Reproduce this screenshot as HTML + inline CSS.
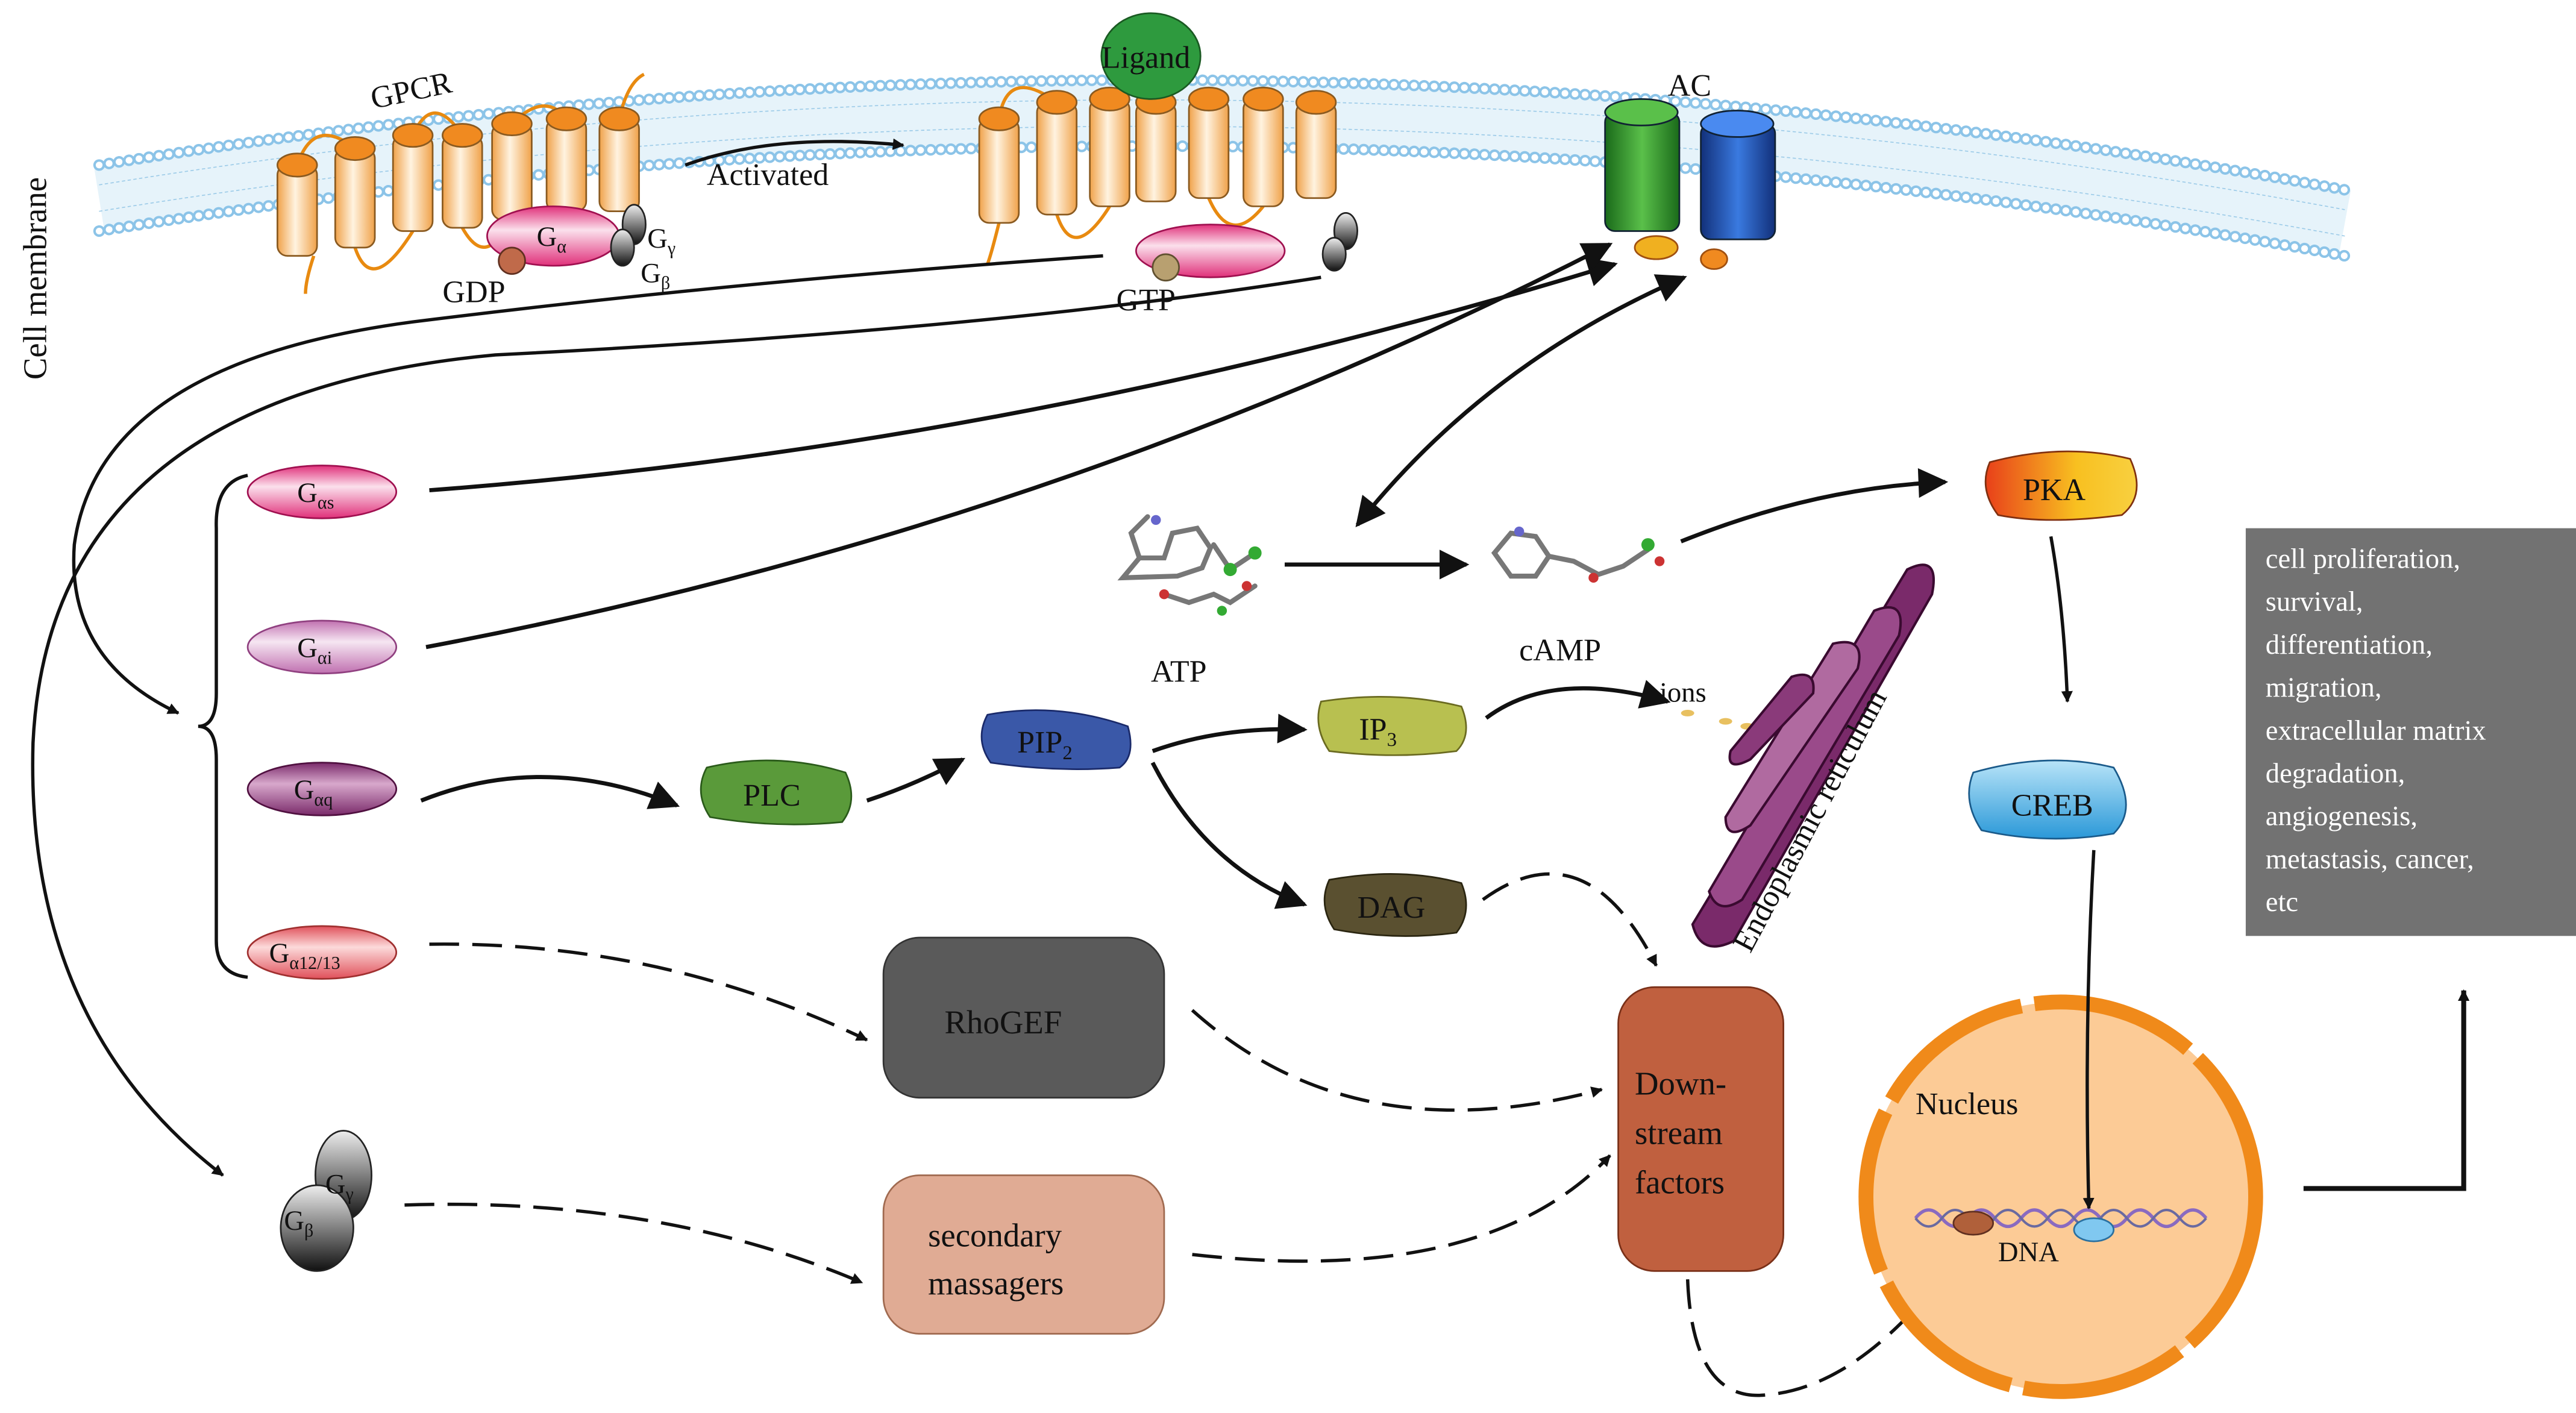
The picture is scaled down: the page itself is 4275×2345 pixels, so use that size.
<!DOCTYPE html>
<html><head><meta charset="utf-8"><style>
html,body{margin:0;padding:0;background:#fff}
svg{display:block}
text{font-family:"Liberation Serif",serif;fill:#111}
</style></head><body>
<svg width="4275" height="2345" viewBox="0 0 1560 856" preserveAspectRatio="none" xmlns="http://www.w3.org/2000/svg">
<defs>
<marker id="ah" viewBox="0 0 10 10" refX="9" refY="5" markerWidth="7" markerHeight="7" orient="auto-start-reverse" markerUnits="userSpaceOnUse"><path d="M0,0 L10,5 L0,10 z" fill="#111"/></marker>
<marker id="ahb" viewBox="0 0 10 10" refX="9" refY="5" markerWidth="22" markerHeight="18" orient="auto-start-reverse" markerUnits="userSpaceOnUse"><path d="M0,0 L10,5 L0,10 z" fill="#111"/></marker>
<linearGradient id="cyl" x1="0" x2="1"><stop offset="0" stop-color="#f0a24a"/><stop offset=".45" stop-color="#fff3e0"/><stop offset="1" stop-color="#f0a24a"/></linearGradient>
<linearGradient id="pink" x1="0" y1="0" x2="0" y2="1"><stop offset="0" stop-color="#e0307a"/><stop offset=".4" stop-color="#fbe0ec"/><stop offset="1" stop-color="#e0307a"/></linearGradient>
<linearGradient id="gi" x1="0" y1="0" x2="0" y2="1"><stop offset="0" stop-color="#c070b0"/><stop offset=".4" stop-color="#f6e6f2"/><stop offset="1" stop-color="#c070b0"/></linearGradient>
<linearGradient id="gq" x1="0" y1="0" x2="0" y2="1"><stop offset="0" stop-color="#7a2a6a"/><stop offset=".4" stop-color="#d8a8cc"/><stop offset="1" stop-color="#7a2a6a"/></linearGradient>
<linearGradient id="g12" x1="0" y1="0" x2="0" y2="1"><stop offset="0" stop-color="#e0505a"/><stop offset=".4" stop-color="#fcdada"/><stop offset="1" stop-color="#e0505a"/></linearGradient>
<linearGradient id="pka" x1="0" y1="0" x2="1" y2="0"><stop offset="0" stop-color="#e8401a"/><stop offset=".6" stop-color="#f8c020"/><stop offset="1" stop-color="#f8d040"/></linearGradient>
<linearGradient id="creb" x1="0" y1="0" x2="0" y2="1"><stop offset="0" stop-color="#b8e4f8"/><stop offset="1" stop-color="#2a98d8"/></linearGradient>
<linearGradient id="gr" x1="0" x2="1"><stop offset="0" stop-color="#1a6a1a"/><stop offset=".5" stop-color="#5ac04a"/><stop offset="1" stop-color="#1a6a1a"/></linearGradient>
<linearGradient id="bl" x1="0" x2="1"><stop offset="0" stop-color="#12307a"/><stop offset=".5" stop-color="#3a7ae0"/><stop offset="1" stop-color="#12307a"/></linearGradient>
<linearGradient id="gb" x1="0" y1="0" x2="0" y2="1"><stop offset="0" stop-color="#eee"/><stop offset="1" stop-color="#111"/></linearGradient>
</defs>

<!-- membrane -->
<path d="M60,120 Q740,10 1420,135" stroke="#e6f3fa" stroke-width="40" fill="none"/>
<path d="M60,112 Q740,2 1420,127" stroke="#9ccbe8" stroke-width="0.6" fill="none" stroke-dasharray="2 1.5"/>
<path d="M60,128 Q740,18 1420,143" stroke="#9ccbe8" stroke-width="0.6" fill="none" stroke-dasharray="2 1.5"/>
<path d="M60,100 Q740,-10 1420,115" stroke="#8cc4e8" stroke-width="7" fill="none" stroke-dasharray="0.1 6" stroke-linecap="round"/>
<path d="M60,100 Q740,-10 1420,115" stroke="#fff" stroke-width="4" fill="none" stroke-dasharray="0.1 6" stroke-linecap="round"/>
<path d="M60,140 Q740,30 1420,155" stroke="#8cc4e8" stroke-width="7" fill="none" stroke-dasharray="0.1 6" stroke-linecap="round"/>
<path d="M60,140 Q740,30 1420,155" stroke="#fff" stroke-width="4" fill="none" stroke-dasharray="0.1 6" stroke-linecap="round"/>

<text x="28" y="230" font-size="20" transform="rotate(-90 28 230)">Cell membrane</text>

<!-- GPCR -->
<g stroke="#e88a10" stroke-width="2" fill="none">
<path d="M180,100 Q190,70 215,90"/><path d="M250,82 Q262,55 280,82"/><path d="M310,75 Q330,55 343,72"/><path d="M375,72 Q380,50 390,45"/>
<path d="M215,150 Q225,180 250,140"/><path d="M280,138 Q295,165 310,130"/><path d="M190,155 Q185,170 185,178"/>
</g>
<g stroke="#8a5a20" stroke-width="1">
<rect x="168" y="100" width="24" height="55" rx="6" fill="url(#cyl)"/><ellipse cx="180" cy="100" rx="12" ry="7" fill="#f08a20"/>
<rect x="203" y="90" width="24" height="60" rx="6" fill="url(#cyl)"/><ellipse cx="215" cy="90" rx="12" ry="7" fill="#f08a20"/>
<rect x="238" y="82" width="24" height="58" rx="6" fill="url(#cyl)"/><ellipse cx="250" cy="82" rx="12" ry="7" fill="#f08a20"/>
<rect x="268" y="82" width="24" height="56" rx="6" fill="url(#cyl)"/><ellipse cx="280" cy="82" rx="12" ry="7" fill="#f08a20"/>
<rect x="298" y="75" width="24" height="58" rx="6" fill="url(#cyl)"/><ellipse cx="310" cy="75" rx="12" ry="7" fill="#f08a20"/>
<rect x="331" y="72" width="24" height="56" rx="6" fill="url(#cyl)"/><ellipse cx="343" cy="72" rx="12" ry="7" fill="#f08a20"/>
<rect x="363" y="72" width="24" height="56" rx="6" fill="url(#cyl)"/><ellipse cx="375" cy="72" rx="12" ry="7" fill="#f08a20"/>
</g>
<text x="226" y="66" font-size="19" transform="rotate(-12 226 66)">GPCR</text>
<ellipse cx="335" cy="143" rx="40" ry="18" fill="url(#pink)" stroke="#a01050" stroke-width="1"/>
<text x="325" y="149" font-size="17">G<tspan font-size="11" dy="4">α</tspan></text>
<circle cx="310" cy="158" r="8" fill="#c06a4a" stroke="#603020"/>
<ellipse cx="384" cy="136" rx="7" ry="12" fill="url(#gb)" stroke="#222"/><ellipse cx="377" cy="150" rx="7" ry="11" fill="url(#gb)" stroke="#222"/>
<text x="392" y="150" font-size="17">G<tspan font-size="11" dy="4">γ</tspan></text>
<text x="388" y="171" font-size="17">G<tspan font-size="11" dy="4">β</tspan></text>
<text x="268" y="183" font-size="19">GDP</text>

<path d="M415,100 Q470,80 547,88" stroke="#111" stroke-width="2" fill="none" marker-end="url(#ah)"/>
<text x="428" y="112" font-size="19">Activated</text>

<!-- activated receptor -->
<g stroke="#e88a10" stroke-width="2" fill="none">
<path d="M605,72 Q610,40 640,62"/><path d="M672,62 Q685,40 700,65"/><path d="M640,130 Q650,160 672,125"/><path d="M732,120 Q745,150 765,125"/><path d="M605,135 Q600,155 598,160"/>
</g>
<g stroke="#8a5a20" stroke-width="1">
<rect x="593" y="72" width="24" height="63" rx="6" fill="url(#cyl)"/><ellipse cx="605" cy="72" rx="12" ry="7" fill="#f08a20"/>
<rect x="628" y="62" width="24" height="68" rx="6" fill="url(#cyl)"/><ellipse cx="640" cy="62" rx="12" ry="7" fill="#f08a20"/>
<rect x="660" y="60" width="24" height="65" rx="6" fill="url(#cyl)"/><ellipse cx="672" cy="60" rx="12" ry="7" fill="#f08a20"/>
<rect x="688" y="62" width="24" height="60" rx="6" fill="url(#cyl)"/><ellipse cx="700" cy="62" rx="12" ry="7" fill="#f08a20"/>
<rect x="720" y="60" width="24" height="60" rx="6" fill="url(#cyl)"/><ellipse cx="732" cy="60" rx="12" ry="7" fill="#f08a20"/>
<rect x="753" y="60" width="24" height="65" rx="6" fill="url(#cyl)"/><ellipse cx="765" cy="60" rx="12" ry="7" fill="#f08a20"/>
<rect x="785" y="62" width="24" height="58" rx="6" fill="url(#cyl)"/><ellipse cx="797" cy="62" rx="12" ry="7" fill="#f08a20"/>
</g>
<ellipse cx="697" cy="34" rx="30" ry="26" fill="#2e9a3e" stroke="#1a5a22"/>
<text x="667" y="41" font-size="19">Ligand</text>
<ellipse cx="733" cy="152" rx="45" ry="16" fill="url(#pink)" stroke="#a01050"/>
<circle cx="706" cy="162" r="8" fill="#b8a070" stroke="#605030"/>
<text x="676" y="188" font-size="19">GTP</text>
<ellipse cx="815" cy="140" rx="7" ry="11" fill="url(#gb)" stroke="#222"/><ellipse cx="808" cy="154" rx="7" ry="10" fill="url(#gb)" stroke="#222"/>

<!-- AC -->
<rect x="972" y="68" width="45" height="72" rx="6" fill="url(#gr)" stroke="#123"/><ellipse cx="994" cy="68" rx="22" ry="8" fill="#5ac04a" stroke="#123"/>
<rect x="1030" y="75" width="45" height="70" rx="6" fill="url(#bl)" stroke="#123"/><ellipse cx="1052" cy="75" rx="22" ry="8" fill="#4a8af0" stroke="#123"/>
<ellipse cx="1003" cy="150" rx="13" ry="7" fill="#f0b020" stroke="#a05010"/><ellipse cx="1038" cy="157" rx="8" ry="6" fill="#f08a20" stroke="#a05010"/>
<text x="1010" y="58" font-size="19">AC</text>

<!-- G alpha nodes -->
<ellipse cx="195" cy="298" rx="45" ry="16" fill="url(#pink)" stroke="#a01050"/>
<text x="180" y="304" font-size="17">G<tspan font-size="11" dy="4">αs</tspan></text>
<ellipse cx="195" cy="392" rx="45" ry="16" fill="url(#gi)" stroke="#904080"/>
<text x="180" y="398" font-size="17">G<tspan font-size="11" dy="4">αi</tspan></text>
<ellipse cx="195" cy="478" rx="45" ry="16" fill="url(#gq)" stroke="#501040"/>
<text x="178" y="484" font-size="17">G<tspan font-size="11" dy="4">αq</tspan></text>
<ellipse cx="195" cy="577" rx="45" ry="16" fill="url(#g12)" stroke="#a03030"/>
<text x="163" y="583" font-size="17">G<tspan font-size="11" dy="4">α12/13</tspan></text>

<!-- brace -->
<path d="M150,288 Q130,292 131,320 L131,420 Q131,440 120,440 Q131,440 131,460 L131,570 Q131,590 150,592" stroke="#111" stroke-width="2" fill="none"/>

<!-- G beta gamma -->
<ellipse cx="208" cy="712" rx="17" ry="27" fill="url(#gb)" stroke="#222"/>
<ellipse cx="192" cy="744" rx="22" ry="26" fill="url(#gb)" stroke="#222"/>
<text x="197" y="723" font-size="17">G<tspan font-size="11" dy="4">γ</tspan></text>
<text x="172" y="745" font-size="17">G<tspan font-size="11" dy="4">β</tspan></text>

<!-- long curves from membrane -->
<path d="M668,155 Q450,170 250,195 Q60,220 45,330 Q40,400 108,432" stroke="#111" stroke-width="2" fill="none" marker-end="url(#ah)"/>
<path d="M800,168 Q600,200 300,215 Q30,240 20,450 Q15,620 135,712" stroke="#111" stroke-width="2" fill="none" marker-end="url(#ah)"/>
<path d="M260,297 Q620,270 978,160" stroke="#111" stroke-width="2.5" fill="none" marker-end="url(#ahb)"/>
<path d="M258,392 Q640,320 975,148" stroke="#111" stroke-width="2.5" fill="none" marker-end="url(#ahb)"/>
<path d="M1020,168 Q900,220 822,318" stroke="#111" stroke-width="2.5" fill="none" marker-start="url(#ahb)" marker-end="url(#ahb)"/>

<!-- ATP / cAMP molecules (stylized) -->
<g stroke="#777" stroke-width="3" fill="none" stroke-linecap="round">
<path d="M680,350 l10,-12 l15,0 l5,-15 l15,-3 l8,12 l-5,12 l-15,5 z"/><path d="M690,338 l-5,-15 l10,-10"/>
<path d="M705,360 l15,5 l15,-5 l10,5 l15,-10"/><path d="M735,330 l10,15 l15,-10"/>
<path d="M905,335 l10,-12 l15,2 l8,12 l-8,12 l-15,0 z"/><path d="M938,337 l15,3 l15,8 l15,-5 l15,-10"/>
</g>
<g fill="#3a3" ><circle cx="745" cy="345" r="4"/><circle cx="760" cy="335" r="4"/><circle cx="998" cy="330" r="4"/><circle cx="740" cy="370" r="3"/></g>
<g fill="#c33"><circle cx="705" cy="360" r="3"/><circle cx="755" cy="355" r="3"/><circle cx="965" cy="350" r="3"/><circle cx="1005" cy="340" r="3"/></g>
<g fill="#66c"><circle cx="700" cy="315" r="3"/><circle cx="920" cy="322" r="3"/></g>
<text x="697" y="413" font-size="19">ATP</text>
<text x="920" y="400" font-size="19">cAMP</text>
<path d="M778,342 L888,342" stroke="#111" stroke-width="2.5" marker-end="url(#ahb)"/>
<path d="M1018,328 Q1100,295 1178,292" stroke="#111" stroke-width="2.5" fill="none" marker-end="url(#ahb)"/>

<!-- PKA, CREB -->
<path d="M1205,280 Q1250,268 1290,278 Q1300,300 1285,312 Q1240,318 1210,312 Q1198,296 1205,280 z" fill="url(#pka)" stroke="#803010"/>
<text x="1225" y="303" font-size="19">PKA</text>
<path d="M1242,325 Q1250,370 1252,425" stroke="#111" stroke-width="2" fill="none" marker-end="url(#ah)"/>
<path d="M1195,468 Q1240,455 1280,465 Q1295,490 1280,505 Q1240,512 1200,503 Q1188,485 1195,468 z" fill="url(#creb)" stroke="#1a5a8a"/>
<text x="1218" y="494" font-size="19">CREB</text>

<!-- output box -->
<rect x="1360" y="320" width="200" height="247" fill="#727272"/>
<g font-size="17" fill="#fff">
<text x="1372" y="344" style="fill:#fff">cell proliferation,</text>
<text x="1372" y="370" style="fill:#fff">survival,</text>
<text x="1372" y="396" style="fill:#fff">differentiation,</text>
<text x="1372" y="422" style="fill:#fff">migration,</text>
<text x="1372" y="448" style="fill:#fff">extracellular  matrix</text>
<text x="1372" y="474" style="fill:#fff">degradation,</text>
<text x="1372" y="500" style="fill:#fff">angiogenesis,</text>
<text x="1372" y="526" style="fill:#fff">metastasis, cancer,</text>
<text x="1372" y="552" style="fill:#fff">etc</text>
</g>
<path d="M1395,720 L1492,720 L1492,600" stroke="#111" stroke-width="3" fill="none" marker-end="url(#ah)"/>

<!-- PLC chain -->
<path d="M428,465 Q470,455 512,468 Q520,485 510,498 Q470,502 430,495 Q420,480 428,465 z" fill="#5a9a3a" stroke="#2a5a1a"/>
<text x="450" y="488" font-size="19">PLC</text>
<path d="M255,485 Q330,455 410,488" stroke="#111" stroke-width="2.5" fill="none" marker-end="url(#ahb)"/>
<path d="M525,485 Q555,475 583,460" stroke="#111" stroke-width="2.5" fill="none" marker-end="url(#ahb)"/>
<path d="M598,433 Q640,425 683,440 Q688,458 678,465 Q640,468 600,462 Q590,448 598,433 z" fill="#3a58a8" stroke="#1a2a6a"/>
<text x="616" y="456" font-size="19">PIP<tspan font-size="12" dy="4">2</tspan></text>
<path d="M698,455 Q740,440 790,442" stroke="#111" stroke-width="2.5" fill="none" marker-end="url(#ahb)"/>
<path d="M698,462 Q730,525 790,548" stroke="#111" stroke-width="2.5" fill="none" marker-end="url(#ahb)"/>
<path d="M800,425 Q845,418 885,428 Q892,445 882,455 Q845,460 805,455 Q795,440 800,425 z" fill="#b8c050" stroke="#6a6a20"/>
<text x="823" y="448" font-size="19">IP<tspan font-size="12" dy="4">3</tspan></text>
<path d="M900,435 Q940,405 1010,425" stroke="#111" stroke-width="2.5" fill="none" marker-end="url(#ahb)"/>
<text x="1005" y="425" font-size="17">ions</text>
<g fill="#e8c060"><ellipse cx="1022" cy="432" rx="4" ry="2"/><ellipse cx="1045" cy="437" rx="4" ry="2"/><ellipse cx="1058" cy="440" rx="4" ry="2"/></g>
<path d="M805,533 Q848,525 885,535 Q892,552 882,565 Q845,570 808,563 Q798,548 805,533 z" fill="#5a5030" stroke="#2a2510"/>
<text x="822" y="556" font-size="19">DAG</text>
<path d="M898,545 Q960,500 1003,585" stroke="#111" stroke-width="2" fill="none" stroke-dasharray="18 8" marker-end="url(#ah)"/>

<!-- ER -->
<g fill="#7a2a6a" stroke="#3a0a30" stroke-width="1.5">
<path d="M1155,345 Q1175,335 1170,360 L1050,570 Q1030,580 1025,560 Z"/>
<path d="M1135,370 Q1155,362 1150,385 L1055,545 Q1040,555 1035,540 Z" fill="#9a4a8a"/>
<path d="M1110,390 Q1130,385 1125,405 L1060,500 Q1045,510 1045,495 Z" fill="#b06aa0"/>
<path d="M1085,410 Q1100,405 1098,420 L1060,460 Q1045,468 1048,455 Z" fill="#8a3a7a"/>
</g>
<text x="1060" y="578" font-size="19" transform="rotate(-62 1060 578)">Endoplasmic reticulum</text>

<!-- RhoGEF, secondary -->
<rect x="535" y="568" width="170" height="97" rx="22" fill="#5a5a5a" stroke="#333"/>
<text x="572" y="626" font-size="20">RhoGEF</text>
<rect x="535" y="712" width="170" height="96" rx="22" fill="#e0ab94" stroke="#a06a50"/>
<text x="562" y="755" font-size="20">secondary</text>
<text x="562" y="784" font-size="20">massagers</text>
<path d="M260,572 Q400,570 525,630" stroke="#111" stroke-width="2" fill="none" stroke-dasharray="18 8" marker-end="url(#ah)"/>
<path d="M245,730 Q400,725 522,777" stroke="#111" stroke-width="2" fill="none" stroke-dasharray="18 8" marker-end="url(#ah)"/>
<path d="M722,612 Q820,700 970,660" stroke="#111" stroke-width="2" fill="none" stroke-dasharray="18 8" marker-end="url(#ah)"/>
<path d="M722,760 Q900,780 975,700" stroke="#111" stroke-width="2" fill="none" stroke-dasharray="18 8" marker-end="url(#ah)"/>

<!-- Downstream -->
<rect x="980" y="598" width="100" height="172" rx="22" fill="#c0603f" stroke="#7a3018"/>
<text x="990" y="663" font-size="20">Down-</text>
<text x="990" y="693" font-size="20">stream</text>
<text x="990" y="723" font-size="20">factors</text>
<path d="M1022,775 Q1025,850 1070,845 Q1130,840 1190,755" stroke="#111" stroke-width="2" fill="none" stroke-dasharray="18 8" marker-end="url(#ah)"/>

<!-- Nucleus -->
<circle cx="1248" cy="725" r="118" fill="#fccb96"/>
<circle cx="1248" cy="725" r="118" fill="none" stroke="#f08a1a" stroke-width="9" stroke-dasharray="100 8"/>
<text x="1160" y="675" font-size="19">Nucleus</text>
<path d="M1160,738 q8,-10 16,0 t16,0 t16,0 t16,0 t16,0 t16,0 t16,0 t16,0 t16,0 t16,0 t16,0" stroke="#8a6ac0" stroke-width="2" fill="none"/>
<path d="M1160,738 q8,10 16,0 t16,0 t16,0 t16,0 t16,0 t16,0 t16,0 t16,0 t16,0 t16,0 t16,0" stroke="#6a6aa0" stroke-width="1.5" fill="none"/>
<ellipse cx="1195" cy="741" rx="12" ry="7" fill="#b0603a" stroke="#603020"/>
<ellipse cx="1268" cy="745" rx="12" ry="7" fill="#80c8f0" stroke="#2a70a0"/>
<text x="1210" y="764" font-size="17">DNA</text>
<path d="M1268,515 Q1262,620 1265,732" stroke="#111" stroke-width="2" fill="none" marker-end="url(#ah)"/>
</svg>
</body></html>
